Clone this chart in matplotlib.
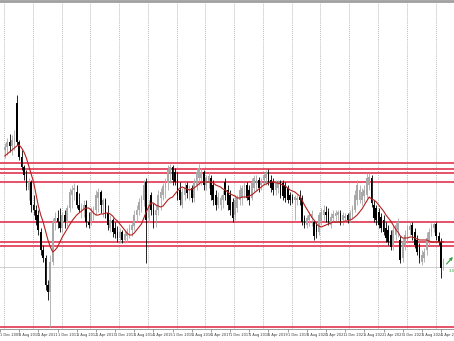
import matplotlib
matplotlib.use("Agg")
import matplotlib.pyplot as plt
import numpy as np
import pandas as pd

# monthly candles, Feb 2010 .. May 2025, prices in cents
opens = [417, 420, 425, 421, 427, 464, 425, 410, 400, 392, 377, 385, 362, 357, 352, 335, 317, 309, 282, 275,
         305, 345, 349, 345, 339, 352, 345, 359, 372, 377, 375, 362, 357, 357, 362, 345, 345, 353, 357, 369,
         375, 362, 367, 354, 339, 347, 339, 335, 329, 335, 327, 331, 335, 337, 341, 352, 357, 364, 367, 385,
         349, 372, 357, 352, 357, 369, 372, 379, 384, 395, 400, 395, 387, 377, 362, 372, 382, 372, 379, 369,
         382, 389, 389, 395, 382, 385, 389, 382, 372, 362, 362, 367, 385, 377, 372, 365, 352, 359, 367, 369,
         375, 382, 377, 369, 379, 382, 387, 382, 387, 389, 395, 387, 385, 377, 379, 385, 384, 382, 379, 372,
         370, 367, 367, 370, 369, 349, 342, 347, 349, 345, 342, 335, 345, 352, 355, 355, 342, 349, 351, 352,
         354, 347, 349, 352, 347, 352, 357, 367, 367, 367, 371, 372, 382, 389, 362, 359, 355, 350, 347, 339,
         337, 332, 322, 332, 337, 327, 309, 322, 329, 337, 342, 335, 327, 320, 305, 309, 317, 327, 335, 339,
         343, 331, 325, 302]
highs = [424, 429, 433, 432, 437, 472, 427, 417, 402, 397, 389, 387, 372, 362, 357, 339, 322, 312, 287, 312,
         349, 355, 357, 359, 355, 357, 362, 379, 382, 384, 382, 374, 364, 367, 367, 355, 360, 361, 377, 379,
         377, 369, 369, 362, 352, 349, 345, 341, 339, 337, 337, 339, 343, 345, 357, 362, 369, 372, 387, 389,
         367, 375, 364, 362, 377, 379, 384, 389, 402, 403, 402, 399, 395, 385, 379, 385, 385, 382, 382, 389,
         399, 403, 399, 397, 392, 395, 392, 387, 377, 375, 372, 377, 389, 382, 377, 369, 372, 372, 382, 382,
         385, 385, 382, 389, 392, 392, 390, 389, 395, 397, 398, 392, 389, 387, 387, 387, 387, 385, 382, 375,
         373, 372, 372, 377, 372, 352, 352, 355, 357, 347, 345, 355, 359, 362, 361, 359, 354, 357, 357, 357,
         357, 355, 354, 354, 357, 362, 377, 387, 382, 379, 382, 394, 394, 392, 367, 362, 359, 354, 352, 345,
         342, 337, 342, 345, 349, 331, 329, 337, 342, 345, 345, 339, 332, 324, 317, 319, 335, 339, 344, 345,
         345, 335, 329, 309]
lows = [409, 412, 415, 412, 417, 422, 407, 397, 387, 377, 367, 355, 352, 342, 332, 312, 305, 277, 267, 240,
        302, 337, 339, 335, 335, 339, 341, 355, 359, 367, 359, 355, 349, 350, 340, 339, 342, 347, 352, 355,
        354, 350, 349, 337, 335, 330, 329, 325, 324, 324, 324, 325, 329, 331, 337, 345, 352, 355, 361, 304,
        345, 352, 339, 340, 352, 357, 367, 369, 377, 384, 382, 382, 367, 362, 359, 367, 369, 367, 365, 365,
        377, 382, 382, 377, 377, 379, 367, 362, 357, 359, 357, 359, 367, 357, 352, 345, 347, 355, 362, 362,
        369, 367, 362, 367, 375, 377, 375, 377, 382, 382, 382, 375, 372, 372, 374, 369, 367, 365, 364, 362,
        364, 347, 362, 362, 342, 339, 339, 341, 341, 327, 329, 332, 342, 347, 345, 342, 339, 345, 345, 347,
        342, 342, 345, 344, 345, 349, 355, 362, 364, 362, 365, 369, 377, 360, 345, 342, 339, 335, 332, 325,
        322, 317, 317, 327, 330, 304, 305, 317, 325, 332, 327, 319, 312, 304, 302, 305, 312, 322, 331, 335,
        327, 322, 289, 297]
closes = [420, 425, 421, 427, 429, 425, 410, 400, 392, 380, 385, 362, 357, 347, 337, 317, 309, 282, 275, 305,
          345, 349, 345, 339, 352, 345, 359, 375, 377, 379, 362, 357, 359, 362, 345, 342, 355, 357, 372, 375,
          362, 367, 354, 342, 347, 335, 333, 329, 335, 327, 333, 335, 339, 342, 352, 357, 365, 369, 382, 347,
          362, 357, 352, 357, 372, 375, 381, 385, 397, 400, 387, 385, 372, 367, 375, 379, 374, 377, 369, 385,
          395, 399, 395, 382, 389, 391, 372, 367, 362, 370, 369, 372, 372, 362, 357, 349, 367, 369, 377, 379,
          382, 369, 367, 385, 389, 387, 379, 385, 392, 394, 385, 379, 377, 383, 384, 372, 371, 369, 367, 367,
          367, 370, 369, 367, 345, 342, 349, 352, 353, 331, 335, 352, 355, 357, 352, 345, 350, 353, 354, 355,
          345, 352, 351, 347, 354, 359, 372, 382, 377, 375, 377, 389, 390, 364, 349, 347, 342, 339, 335, 329,
          325, 320, 337, 342, 345, 307, 325, 332, 339, 341, 332, 322, 315, 309, 312, 315, 329, 335, 341, 343,
          331, 325, 299, 307]
ma = [411, 413, 415, 417, 419, 421, 422, 419, 415, 409, 401, 393, 385, 373, 361, 352, 345, 336, 327, 320,
      315, 317, 320, 325, 330, 334, 338, 342, 346, 349, 352, 354, 356, 358, 359, 359, 357, 354, 352, 352,
      353, 353, 354, 354, 353, 351, 348, 346, 343, 340, 337, 334, 332, 332, 334, 337, 340, 343, 349, 355,
      360, 364, 364, 362, 361, 360, 361, 364, 367, 369, 370, 373, 376, 379, 380, 379, 378, 377, 378, 379,
      381, 383, 385, 385, 385, 385, 385, 384, 382, 381, 380, 378, 377, 375, 373, 372, 371, 369, 369, 370,
      370, 370, 371, 372, 374, 376, 378, 380, 382, 383, 384, 385, 385, 384, 384, 383, 382, 381, 379, 377,
      376, 375, 373, 371, 367, 362, 358, 354, 350, 347, 343, 341, 340, 341, 342, 343, 344, 345, 345, 345,
      345, 345, 346, 346, 347, 348, 350, 352, 355, 358, 362, 366, 370, 368, 367, 365, 362, 359, 356, 352,
      349, 346, 342, 338, 335, 331, 329, 329, 329, 330, 330, 329, 328, 327, 327, 327, 327, 326, 325, 325,
      325, 325, 325, 325]
levels = [403.7, 398.5, 393.7, 384.8, 345.5, 324.6, 321.3, 240.4]
bid = 300

start = pd.Timestamp("2009-12-01")
month = np.arange(2, 2 + len(closes))
o = np.array(opens) / 100
h = np.array(highs) / 100
l = np.array(lows) / 100
c = np.array(closes) / 100
up = c >= o
cols = np.where(up, "#a8a8a8", "#000000")

fig = plt.figure(figsize=(4.54, 3.41), dpi=100)
ax = fig.add_axes([0, 12 / 341, 1, 328 / 341])

for g in np.arange(1.7, 190, 12):
    ax.axvline(g, color="#bdbdbd", lw=0.7, ls=(0, (1, 1)), zorder=0)
ax.axhline(bid / 100, color="#d0d0d0", lw=0.7, zorder=1)
for lv in levels:
    ax.axhline(lv / 100, color="#e0354f", lw=1.2, zorder=2)

ax.vlines(month, l, h, colors=cols, lw=0.6, zorder=3)
body = np.where(np.abs(c - o) < 0.01, 0.01, c - o)
ax.bar(month, body, bottom=o, width=0.72, color=cols, lw=0, zorder=4)
ax.plot(month, np.array(ma) / 100, color="#b5201e", lw=0.8, zorder=5)

# last-price marker
ax.annotate("", xy=(188.9, 3.10), xytext=(186.3, 3.03),
            arrowprops=dict(arrowstyle="-|>", color="#2e9e3a", lw=0.8,
                            mutation_scale=4, shrinkA=0, shrinkB=0))
ax.text(187.0, 2.96, "3.0", color="#2e9e3a", fontsize=2.8, va="center")

ax.set_xlim(1.37, 189.4)
ax.set_ylim(2.38, 5.66)

ticks = np.arange(0, 185, 8)
labels = []
for t in ticks:
    d = start + pd.DateOffset(months=int(t))
    labels.append(f"{d.day} {d.strftime('%b %Y')}")
ax.set_xticks(ticks)
ax.set_xticklabels(labels, fontsize=2.5, color="#333333", ha="left")
ax.tick_params(axis="x", length=2, width=0.5, color="#777777", pad=1)
ax.set_yticks([])
for s in ["left", "right"]:
    ax.spines[s].set_visible(False)
ax.spines["top"].set_color("#a0a0a0")
ax.spines["top"].set_linewidth(2)
ax.spines["bottom"].set_color("#888888")
ax.spines["bottom"].set_linewidth(0.6)

fig.savefig("out.png", dpi=100)
